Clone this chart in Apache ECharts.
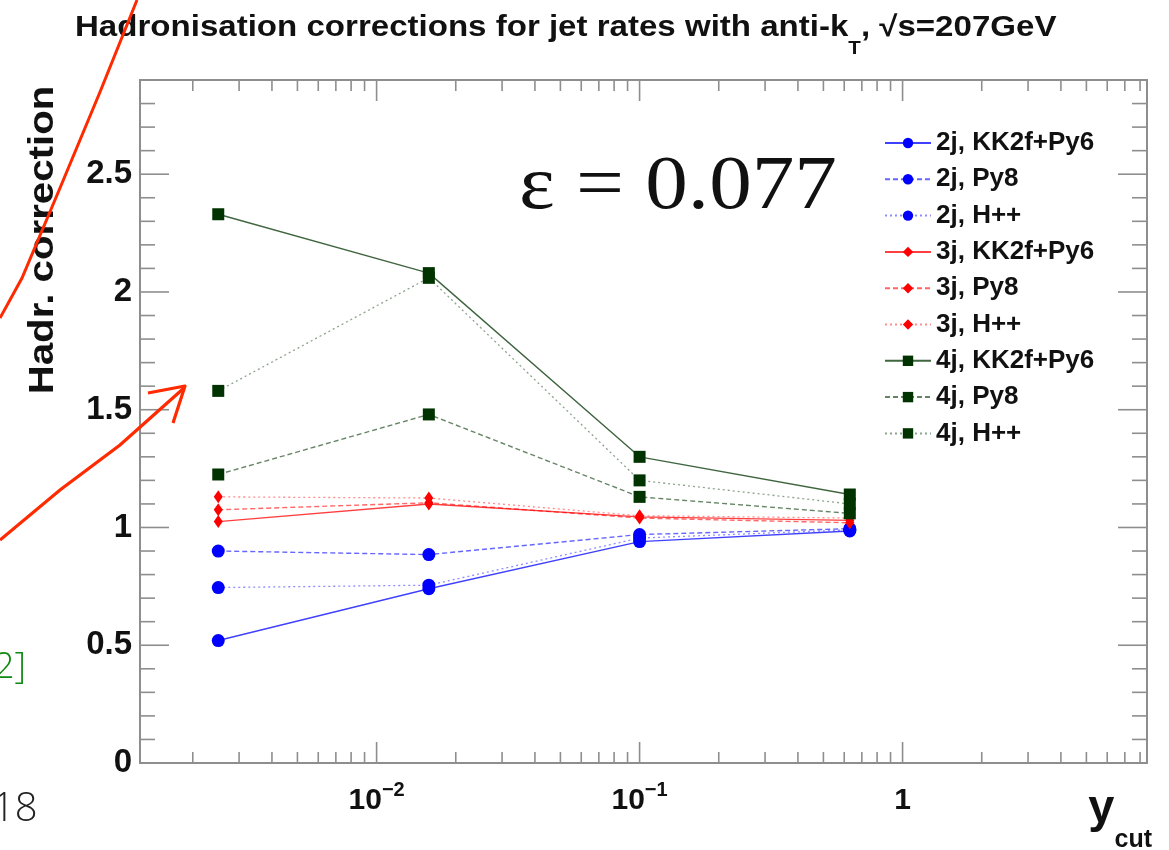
<!DOCTYPE html>
<html>
<head>
<meta charset="utf-8">
<script src="https://cdn.jsdelivr.net/npm/echarts@6/dist/echarts.min.js"></script>
<style>
  html, body { margin: 0; padding: 0; background: #ffffff; }
  #chart { width: 1169px; height: 850px; }
</style>
</head>
<body>
<div id="chart"></div>
<script>
// y_cut values at which the corrections are evaluated
const ycut = [0.0025, 0.0158, 0.1, 0.63];

// hadronisation corrections per jet multiplicity and generator
const r2KK2f = [0.52, 0.74, 0.94, 0.985];
const r2Py8  = [0.90, 0.885, 0.97, 0.995];
const r2Hpp  = [0.745, 0.755, 0.955, 0.99];
const r3KK2f = [1.025, 1.10, 1.045, 1.03];
const r3Py8  = [1.075, 1.105, 1.04, 1.02];
const r3Hpp  = [1.13, 1.125, 1.05, 1.04];
const r4KK2f = [2.33, 2.08, 1.30, 1.14];
const r4Py8  = [1.225, 1.48, 1.13, 1.06];
const r4Hpp  = [1.58, 2.06, 1.20, 1.10];

const seriesNames = [
  '2j, KK2f+Py6', '2j, Py8', '2j, H++',
  '3j, KK2f+Py6', '3j, Py8', '3j, H++',
  '4j, KK2f+Py6', '4j, Py8', '4j, H++'
];

// axis ranges and tick marks
const xMin = 0.00126, xMax = 8.5;
const yMin = 0, yMax = 2.9;
const xMajorTicks = [0.01, 0.1, 1];
const xMinorTicks = [0.002, 0.003, 0.004, 0.005, 0.006, 0.007, 0.008, 0.009,
                     0.02, 0.03, 0.04, 0.05, 0.06, 0.07, 0.08, 0.09,
                     0.2, 0.3, 0.4, 0.5, 0.6, 0.7, 0.8, 0.9,
                     2, 3, 4, 5, 6, 7, 8];
const xTickLabels = { '-2': ['10', '−2'], '-1': ['10', '−1'], '0': ['1', ''] };
const yMajorTicks = [0, 0.5, 1, 1.5, 2, 2.5];
const yMinorTicks = [0.1, 0.2, 0.3, 0.4, 0.6, 0.7, 0.8, 0.9, 1.1, 1.2, 1.3, 1.4,
                     1.6, 1.7, 1.8, 1.9, 2.1, 2.2, 2.3, 2.4, 2.6, 2.7, 2.8];

const BLUE = '#0000ff', RED = '#ff0000', GREEN = '#003300';
const FRAME = '#8e8e8e';
const SANS = '"Liberation Sans", Arial, Helvetica, sans-serif';

function pairs(vals) { return ycut.map((x, i) => [x, vals[i]]); }

function lineSeries(name, vals, color, kind, symbol, size) {
  const styles = {
    solid:  { type: 'solid',  width: 1.4, opacity: 0.75 },
    dashed: { type: [5, 3],   width: 1.4, opacity: 0.6 },
    dotted: { type: [2, 3],   width: 1.3, opacity: 0.45 }
  };
  const ls = styles[kind];
  return {
    name: name,
    type: 'line',
    data: pairs(vals),
    symbol: symbol,
    symbolSize: size,
    showSymbol: true,
    lineStyle: { color: color, type: ls.type, width: ls.width, opacity: ls.opacity },
    itemStyle: { color: color, opacity: 1 },
    emphasis: { disabled: true },
    animation: false,
    z: 3
  };
}

// frame ticks along bottom and top edges, pointing inward
function xTickSeries() {
  const data = xMajorTicks.map(v => [v, 1]).concat(xMinorTicks.map(v => [v, 0]));
  return {
    type: 'custom', silent: true, animation: false, clip: false, z: 2,
    data: data,
    encode: { x: 0, y: 1 },
    renderItem: function (params, api) {
      const cs = params.coordSys;
      const px = api.coord([api.value(0), 1])[0];
      const len = api.value(1) ? 21 : 11;
      const bottom = cs.y + cs.height, top = cs.y;
      const st = { stroke: FRAME, lineWidth: 1.6 };
      return { type: 'group', children: [
        { type: 'line', shape: { x1: px, y1: bottom, x2: px, y2: bottom - len }, style: st },
        { type: 'line', shape: { x1: px, y1: top, x2: px, y2: top + len }, style: st }
      ]};
    }
  };
}

// frame ticks along left and right edges
function yTickSeries() {
  const data = yMajorTicks.map(v => [1, v, 1]).concat(yMinorTicks.map(v => [1, v, 0]));
  return {
    type: 'custom', silent: true, animation: false, clip: false, z: 2,
    data: data,
    encode: { x: 0, y: 1 },
    renderItem: function (params, api) {
      const cs = params.coordSys;
      const py = api.coord([1, api.value(1)])[1];
      const len = api.value(2) ? 29 : 15;
      const left = cs.x, right = cs.x + cs.width;
      const st = { stroke: FRAME, lineWidth: 1.6 };
      return { type: 'group', children: [
        { type: 'line', shape: { x1: left, y1: py, x2: left + len, y2: py }, style: st },
        { type: 'line', shape: { x1: right, y1: py, x2: right - len, y2: py }, style: st }
      ]};
    }
  };
}

const chart = echarts.init(document.getElementById('chart'), null, { renderer: 'canvas' });

const option = {
  backgroundColor: '#ffffff',
  animation: false,
  legend: {
    orient: 'vertical',
    left: 884, top: 130,
    padding: 0,
    itemWidth: 46, itemHeight: 13, itemGap: 10.3,
    selectedMode: false,
    data: seriesNames,
    textStyle: { fontFamily: SANS, fontWeight: 'bold', fontSize: 26, color: '#111', lineHeight: 26 }
  },
  grid: {
    left: 140, right: 22, top: 80, bottom: 87,
    show: true, borderColor: FRAME, borderWidth: 2, backgroundColor: 'transparent',
    outerBoundsMode: 'none'
  },
  xAxis: {
    type: 'log', logBase: 10, min: xMin, max: xMax,
    axisLine: { show: false },
    axisTick: { show: false },
    splitLine: { show: false },
    axisLabel: {
      margin: 17,
      showMinLabel: true, showMaxLabel: true,
      formatter: function (v) {
        const e = Math.log10(v), r = Math.round(e);
        if (Math.abs(e - r) > 1e-6) return '';
        const lab = xTickLabels[String(r)];
        if (!lab) return '';
        return lab[1] ? '{b|' + lab[0] + '}{s|' + lab[1] + '}' : '{b|' + lab[0] + '}';
      },
      rich: {
        b: { fontFamily: SANS, fontWeight: 'bold', fontSize: 30, color: '#111', lineHeight: 36, verticalAlign: 'bottom' },
        s: { fontFamily: SANS, fontWeight: 'bold', fontSize: 20, color: '#111', lineHeight: 20, verticalAlign: 'top' }
      }
    }
  },
  yAxis: {
    type: 'value', min: yMin, max: yMax, interval: 0.5,
    axisLine: { show: false },
    axisTick: { show: false },
    splitLine: { show: false },
    axisLabel: {
      margin: 8,
      fontFamily: SANS, fontWeight: 'bold', fontSize: 33, color: '#111',
      formatter: function (v) {
        return Math.abs(v * 2 - Math.round(v * 2)) < 1e-6 ? String(v) : '';
      }
    }
  },
  graphic: [
    // plot title
    { type: 'text', x: 75, y: 13, scaleX: 1.14,
      style: { text: '{a|Hadronisation corrections for jet rates with anti-k}{s|T}{a|, √s=207GeV}',
               align: 'left', verticalAlign: 'top',
               rich: {
                 a: { fontFamily: SANS, fontWeight: 'bold', fontSize: 29, fill: '#111', lineHeight: 30, verticalAlign: 'top' },
                 s: { fontFamily: SANS, fontWeight: 'bold', fontSize: 18, fill: '#111', lineHeight: 18, padding: [27, 0, 0, 0], verticalAlign: 'top' }
               } } },
    // y-axis title
    { type: 'text', x: 43, y: 240, rotation: Math.PI / 2, scaleX: 1.15,
      style: { text: 'Hadr. correction', fontFamily: SANS, fontWeight: 'bold', fontSize: 35,
               fill: '#111', align: 'center', verticalAlign: 'middle' } },
    // x-axis title
    { type: 'text', x: 1152, y: 786,
      style: { text: '{y|y}{c|cut}', align: 'right', verticalAlign: 'top',
               rich: {
                 y: { fontFamily: SANS, fontWeight: 'bold', fontSize: 47, fill: '#111', lineHeight: 44, verticalAlign: 'top' },
                 c: { fontFamily: SANS, fontWeight: 'bold', fontSize: 25, fill: '#111', lineHeight: 24, padding: [42, 0, 0, 0], verticalAlign: 'top' }
               } } },
    // resolution parameter
    { type: 'text', x: 519, y: 188, scaleX: 1.12,
      style: { text: 'ε = 0.077', fontFamily: '"Liberation Serif", "Times New Roman", serif',
               fontSize: 76, fill: '#111', align: 'left', verticalAlign: 'middle' } },
    // hand-drawn annotation strokes
    { type: 'polyline', z: 10,
      shape: { points: [[137, 0], [100, 92], [60, 188], [22, 278], [0, 318]] },
      style: { stroke: '#ff2a00', lineWidth: 3, fill: null } },
    { type: 'polyline', z: 10,
      shape: { points: [[0, 540], [60, 490], [120, 445], [184, 388]] },
      style: { stroke: '#ff2a00', lineWidth: 3.2, fill: null } },
    { type: 'polyline', z: 10,
      shape: { points: [[148, 393], [185, 386], [173, 423]] },
      style: { stroke: '#ff2a00', lineWidth: 3.2, fill: null, lineJoin: 'round' } },
    // slide text partly outside the view
    { type: 'text', x: -6, y: 668,
      style: { text: '2]', fontFamily: '"Open Sans", "Noto Sans", sans-serif', fontWeight: 300,
               fontSize: 36, fill: '#118811', verticalAlign: 'middle' } },
    { type: 'text', x: -8, y: 810,
      style: { text: '18', fontFamily: '"Open Sans", "Noto Sans", sans-serif', fontWeight: 300,
               fontSize: 40, fill: '#222', verticalAlign: 'middle' } }
  ],
  series: [
    xTickSeries(),
    yTickSeries(),
    lineSeries(seriesNames[0], r2KK2f, BLUE, 'solid', 'circle', 13),
    lineSeries(seriesNames[1], r2Py8, BLUE, 'dashed', 'circle', 13),
    lineSeries(seriesNames[2], r2Hpp, BLUE, 'dotted', 'circle', 13),
    lineSeries(seriesNames[3], r3KK2f, RED, 'solid', 'diamond', [9, 13]),
    lineSeries(seriesNames[4], r3Py8, RED, 'dashed', 'diamond', [9, 13]),
    lineSeries(seriesNames[5], r3Hpp, RED, 'dotted', 'diamond', [9, 13]),
    lineSeries(seriesNames[6], r4KK2f, GREEN, 'solid', 'rect', 12),
    lineSeries(seriesNames[7], r4Py8, GREEN, 'dashed', 'rect', 12),
    lineSeries(seriesNames[8], r4Hpp, GREEN, 'dotted', 'rect', 12)
  ]
};

chart.setOption(option);
</script>
</body>
</html>
